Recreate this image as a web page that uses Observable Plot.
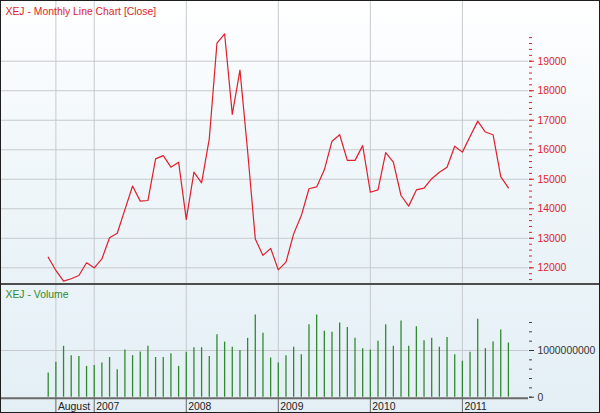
<!DOCTYPE html>
<html><head><meta charset="utf-8">
<script src="https://cdn.jsdelivr.net/npm/d3@7"></script>
<script src="https://cdn.jsdelivr.net/npm/@observablehq/plot@0.6"></script>
<style>
body{margin:0;background:#fff;}
#wrap{position:relative;width:600px;height:413px;overflow:hidden;font-family:"Liberation Sans",Arial,sans-serif;}
#price{position:absolute;left:0;top:0;width:600px;height:283px;background:linear-gradient(#ffffff 0%, #f4f9fb 40%, #e8f2f7 100%);}
#sep{position:absolute;left:0;top:283px;width:600px;height:2px;background:#4d4d4d;}
#vol{position:absolute;left:0;top:285px;width:600px;height:128px;background:linear-gradient(#e9f3f8, #e4eff5);}
#frame{position:absolute;left:0;top:0;width:600px;height:413px;box-sizing:border-box;border:1px solid #1e1e1e;pointer-events:none;}
#price svg, #vol svg{background:transparent !important;display:block;}
</style>
</head>
<body>
<div id="wrap">
  <div id="price"></div>
  <div id="sep"></div>
  <div id="vol"></div>
  <div id="frame"></div>
</div>
<script>
// Months: Jul 2006 .. Jul 2011
const months = [
 "2006-07","2006-08","2006-09","2006-10","2006-11","2006-12",
 "2007-01","2007-02","2007-03","2007-04","2007-05","2007-06","2007-07","2007-08","2007-09","2007-10","2007-11","2007-12",
 "2008-01","2008-02","2008-03","2008-04","2008-05","2008-06","2008-07","2008-08","2008-09","2008-10","2008-11","2008-12",
 "2009-01","2009-02","2009-03","2009-04","2009-05","2009-06","2009-07","2009-08","2009-09","2009-10","2009-11","2009-12",
 "2010-01","2010-02","2010-03","2010-04","2010-05","2010-06","2010-07","2010-08","2010-09","2010-10","2010-11","2010-12",
 "2011-01","2011-02","2011-03","2011-04","2011-05","2011-06","2011-07"
];
const close = [
 12360,11910,11550,11630,11740,12170,
 12000,12300,13020,13170,13970,14770,14260,14280,15690,15800,15410,15580,
 13640,15240,14880,16370,19610,19930,17200,18700,15950,12980,12420,12660,
 11930,12190,13150,13770,14680,14740,15320,16290,16510,15640,15640,16140,
 14560,14640,15900,15580,14450,14090,14640,14700,15020,15240,15410,16120,
 15920,16450,16970,16600,16510,15090,14710
];
const volume = [
 520e6,750e6,1090e6,890e6,870e6,660e6,
 680e6,730e6,850e6,590e6,1010e6,890e6,970e6,1090e6,850e6,850e6,930e6,660e6,
 960e6,1060e6,1060e6,870e6,1340e6,1180e6,1070e6,1000e6,1260e6,1760e6,1370e6,840e6,
 730e6,890e6,1070e6,910e6,1550e6,1760e6,1410e6,1390e6,1590e6,1490e6,1260e6,1040e6,
 1010e6,1200e6,1550e6,1090e6,1630e6,1090e6,1510e6,1210e6,1260e6,1070e6,1280e6,910e6,
 770e6,960e6,1670e6,1040e6,1180e6,1440e6,1160e6
];
const tickMonths = ["2006-08","2007-01","2008-01","2009-01","2010-01","2011-01"];
const tickLabels = ["August","2007","2008","2009","2010","2011"];
const priceTicks = [12000,13000,14000,15000,16000,17000,18000,19000];
const priceMinor = d3.range(11600, 19801, 200);
const volTicks = [0, 1000000000];
const volMinor = d3.range(0, 1600000001, 200000000);

const red = "#e01e2c";
const green = "#2f8a2f";
const grid = "#c6cacd";

const priceData = months.map((m, i) => ({i, v: close[i]}));
const volData = months.map((m, i) => ({i, v: volume[i]}));
const tickIdx = tickMonths.map(m => months.indexOf(m));
const labelOf = new Map(tickIdx.map((i, k) => [i, tickLabels[k]]));
const xDomain = [-6.22, 62.62];
const font = {background: "transparent", fontFamily: "'Liberation Sans', Arial, sans-serif", fontSize: "10.4px", overflow: "visible"};

const price = Plot.plot({
  width: 600, height: 283,
  marginLeft: 0, marginRight: 72, marginTop: 0, marginBottom: 0,
  style: font,
  x: {type: "linear", domain: xDomain, axis: null, label: null},
  y: {domain: [11468, 21058], axis: null, label: null},
  marks: [
    Plot.gridY(priceTicks, {stroke: grid, strokeOpacity: 1}),
    Plot.gridX(tickIdx, {stroke: grid, strokeOpacity: 1}),
    Plot.line(priceData, {x: "i", y: "v", stroke: red, strokeWidth: 1.2}),
    Plot.axisY(priceMinor, {anchor: "right", tickSize: 3, fill: "none", stroke: red, label: null}),
    Plot.axisY(priceTicks, {anchor: "right", tickSize: 5, tickPadding: 4, color: red, tickFormat: d => String(d), label: null}),
    Plot.text(["XEJ - Monthly Line Chart [Close]"], {frameAnchor: "top-left", dx: 5, dy: 7.5, fill: red, textAnchor: "start", lineAnchor: "top"})
  ]
});
document.getElementById("price").appendChild(price);

const vol = Plot.plot({
  width: 600, height: 128,
  marginLeft: 0, marginRight: 72, marginTop: 0, marginBottom: 16.3,
  style: font,
  x: {type: "linear", domain: xDomain, axis: null, label: null},
  y: {domain: [0, 2.392e9], axis: null, label: null},
  marks: [
    Plot.gridY([1000000000], {stroke: grid, strokeOpacity: 1}),
    Plot.gridX(tickIdx, {stroke: grid, strokeOpacity: 1}),
    Plot.ruleX(volData, {x: "i", y: "v", stroke: green, strokeWidth: 1.3}),
    Plot.ruleY([0], {stroke: "#6a6a6a", strokeWidth: 2, dy: 1}),
    Plot.axisY(volMinor, {anchor: "right", tickSize: 3, fill: "none", stroke: "#444", label: null}),
    Plot.axisY(volTicks, {anchor: "right", tickSize: 5, tickPadding: 4, color: "#333", tickFormat: d => String(d), label: null}),
    Plot.axisX(tickIdx, {anchor: "bottom", tickSize: 17, fill: "none", stroke: "#666", label: null}),
    Plot.axisX(tickIdx, {anchor: "bottom", tickSize: 0, tickPadding: 5, dx: 2, textAnchor: "start", fill: "#222", tickFormat: d => labelOf.get(d), label: null}),
    Plot.text(["XEJ - Volume"], {frameAnchor: "top-left", dx: 5, dy: 5, fill: green, textAnchor: "start", lineAnchor: "top"})
  ]
});
document.getElementById("vol").appendChild(vol);
</script>
</body></html>
